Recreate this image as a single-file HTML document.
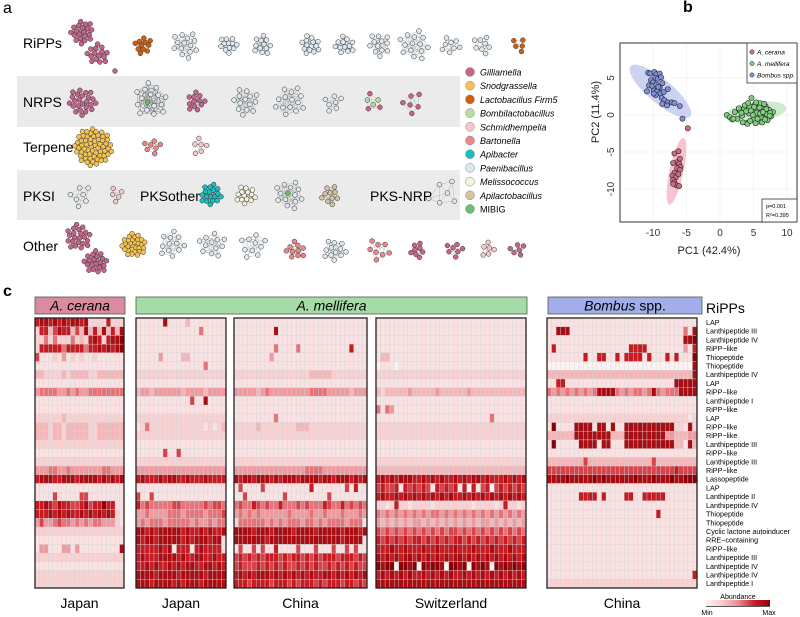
<!DOCTYPE html>
<html><head><meta charset="utf-8"><style>
body{margin:0;background:#fff;}
svg{display:block;font-family:"Liberation Sans",sans-serif;}
</style></head><body>
<svg id="fig" width="800" height="617" viewBox="0 0 800 617">
<text x="3" y="13" font-size="16">a</text>
<text x="683" y="12" font-size="16" font-weight="bold">b</text>
<text x="3" y="296" font-size="16" font-weight="bold">c</text>
<rect x="17" y="76" width="443" height="51" fill="#ebebeb"/>
<rect x="17" y="170" width="443" height="50" fill="#ebebeb"/>
<g id="net"></g>
<g font-size="14">
<text x="23" y="48">RiPPs</text>
<text x="23" y="107">NRPS</text>
<text x="23" y="152">Terpene</text>
<text x="23" y="201">PKSI</text>
<text x="140" y="201">PKSother</text>
<text x="370" y="201">PKS-NRP</text>
<text x="23" y="251">Other</text>
</g>
<g id="netlegend"></g>
<g id="pca"></g>
<g id="heat"></g>
</svg>
<script>
const NS='http://www.w3.org/2000/svg';
function mk(tag,attrs,parent){const e=document.createElementNS(NS,tag);for(const k in attrs)e.setAttribute(k,attrs[k]);parent.appendChild(e);return e;}
const fig=document.getElementById('fig');

// ---------- Panel a: networks ----------
const taxa=['Gilliamella','Snodgrassella','Lactobacillus Firm5','Bombilactobacillus','Schmidhempelia','Bartonella','Apibacter','Paenibacillus','Melissococcus','Apilactobacillus','MIBIG'];
const taxaColors=['#c8648b','#f3c24f','#d0600e','#b9dca0','#f8c8c8','#f08585','#17bfc0','#dce9f0','#f6f3dc','#d6c39c','#6cbf6c'];
const clusters=[
[82,32,20,12,0],[98,54,15,11,0],[115,71,1,0,0],[143,45,11,9,2],[186,45,14,14,7],[228,45,12,9,7],[262,45,12,10,7],[310,45,14,10,7],[345,45,12,10,7],[380,45,12,12,7],[415,45,14,16,7],[451,45,8,10,7],[483,45,8,10,7],[520,45,5,8,2],
[82,102,24,14,0],[150,100,16,18,7],[196,102,12,10,0],[246,102,14,14,7],[290,102,14,16,7],[333,102,7,10,7],[372,102,6,10,3],[412,102,6,12,0],
[93,147,60,19,1],[152,147,7,9,5],[200,147,6,9,4],
[80,195,7,12,7],[117,195,5,8,4],[211,195,18,11,6],[246,195,14,10,8],[290,195,14,15,7],[330,195,10,10,9],[443,195,6,17,7],
[78,237,22,13,0],[96,262,20,12,0],[134,245,30,12,1],[172,245,12,14,7],[212,245,12,14,7],[253,245,10,14,7],[296,250,10,10,5],[335,250,12,12,7],[378,250,8,12,5],[417,250,8,8,0],[454,250,7,9,0],[488,250,6,8,4],[517,250,6,8,0]];
const net=document.getElementById('net');
const GA=2.39996;
clusters.forEach((c,ci)=>{
  const g=mk('g',{},net);
  
  
  const pts=[];
  for(let i=0;i<c[2];i++){const r=c[2]>1?c[3]*Math.sqrt((i+0.5)/c[2]):0;const a=i*GA+ci;pts.push([c[0]+r*Math.cos(a),c[1]+r*Math.sin(a)]);}
  const th=c[2]>20?8:(c[3]*1.0+3);
  for(let i=0;i<pts.length;i++)for(let j=i+1;j<pts.length;j++){const d=Math.hypot(pts[i][0]-pts[j][0],pts[i][1]-pts[j][1]);if(d<th)mk('line',{x1:pts[i][0],y1:pts[i][1],x2:pts[j][0],y2:pts[j][1],stroke:c[2]>15?'#777':'#aaa','stroke-width':0.4},g);}
  pts.forEach((p,i)=>{let col=taxaColors[c[4]];if((ci===15||ci===29)&&i===0)col=taxaColors[10];if(ci===20&&i>2)col=taxaColors[0];mk('circle',{cx:p[0],cy:p[1],r:2.4,fill:col,stroke:'#333','stroke-width':0.5},g);});
});
const nl=document.getElementById('netlegend');
taxa.forEach((t,i)=>{
  const y=72+i*13.7;
  const c=mk('circle',{cx:470,cy:y,r:4.5,fill:taxaColors[i],stroke:'#888','stroke-width':0.5},nl);
  
  
  const tx=mk('text',{x:480,y:y+3.5,'font-size':9,'font-style':i===10?'normal':'italic'},nl);
  tx.textContent=t;
  
  
});

// ---------- Panel b: PCA ----------
const ceranaX=[-6.8,-6.2,-6.0,-6.5,-7.0,-6.1,-5.9,-6.4,-6.8,-6.0,-7.1,-6.6,-6.2,-7.0,-6.8,-6.5,-6.1,-7.0,-4.8];
const ceranaY=[-5.2,-4.9,-5.9,-6.4,-6.5,-6.6,-7.0,-7.2,-7.8,-7.4,-8.2,-8.4,-8.0,-8.8,-9.1,-9.5,-9.6,-9.3,-1.8];
const bombusX=[-10.7,-10.4,-9.8,-9.5,-9.0,-9.7,-10.3,-10.0,-9.3,-8.8,-10.6,-10.1,-9.5,-9.0,-8.6,-9.9,-9.4,-8.9,-8.4,-7.8,-10.9,-9.6,-8.7,-8.3,-8.6,-7.8,-7.2,-6.8,-7.9,-6.0,-5.6,-9.2,-9.9];
const bombusY=[5.7,5.6,5.8,5.5,5.6,5.0,4.7,4.4,4.9,5.1,4.0,3.9,4.1,3.7,4.3,3.3,3.2,2.9,3.1,3.5,3.2,2.7,2.3,2.0,1.5,1.7,1.7,1.6,1.3,1.2,-0.5,3.8,2.9];
const melliferaX=[1.0,1.5,1.8,2.2,2.6,3.0,3.3,3.6,4.0,4.3,4.7,4.8,5.0,5.2,5.5,5.8,6.0,6.2,6.5,6.8,7.0,7.3,7.6,7.9,2.0,2.8,3.4,3.9,4.4,4.9,5.3,5.7,6.1,6.6,7.1,7.5,3.2,4.1,4.6,5.1,5.6,6.3,6.9,7.4,4.5,5.4,6.0,6.7,3.7,5.9,4.2,6.4];
const melliferaY=[0.0,-0.3,-0.6,0.4,-0.5,0.6,-0.1,0.9,-1.1,0.2,2.3,0.8,-0.6,1.4,0.3,-0.9,1.6,0.5,-0.4,1.2,0.1,0.7,-0.2,0.4,-0.5,0.9,-1.0,0.5,1.2,0.0,-1.1,0.9,-0.3,1.5,-0.7,0.3,0.3,-1.2,0.6,1.1,-0.5,-1.0,0.8,-0.1,-0.8,1.7,0.2,-0.6,1.3,1.0,1.6,0.4];
const xTicks=[-10,-5,0,5,10];
const yTicks=[5,0,-5,-10];
const pca=document.getElementById('pca');
const X0=620,X1=797,Y0=43,Y1=222;
const px=v=>653+(v+10)*6.7, py=v=>78-(v-5)*7.4;
xTicks.forEach(t=>{const l=mk('line',{x1:px(t),x2:px(t),y1:Y0,y2:Y1,stroke:'#ececec','stroke-width':0.6},pca);});
yTicks.forEach(t=>{const l=mk('line',{x1:X0,x2:X1,y1:py(t),y2:py(t),stroke:'#ececec','stroke-width':0.6},pca);});
// ellipses (center x,y in data; radii px; angle)
const ell=[[-6.5,-7.6,34,7,-78,'#f4b9c6'],[-8.9,3.2,39,12,40,'#c3cbf0'],[5.3,0.4,31,10,-8,'#c6e8c6']];
ell.forEach(e=>{const el=mk('ellipse',{cx:px(e[0]),cy:py(e[1]),rx:e[2],ry:e[3],fill:e[5],opacity:0.85,transform:`rotate(${e[4]} ${px(e[0])} ${py(e[1])})`},pca);});
function pts(xs,ys,col,name){xs.forEach((x,i)=>{const c=mk('circle',{cx:px(x),cy:py(ys[i]),r:2.6,fill:col,stroke:'#222','stroke-width':0.6},pca);});}
pts(melliferaX,melliferaY,'#7fcf7f','point-mellifera');
pts(bombusX,bombusY,'#7f8fdc','point-bombus');
pts(ceranaX,ceranaY,'#cf6b8a','point-cerana');
const fr=mk('rect',{x:X0,y:Y0,width:X1-X0,height:Y1-Y0,fill:'none',stroke:'#333','stroke-width':1},pca);

xTicks.forEach(t=>{const tx=mk('text',{x:px(t),y:Y1+14,'font-size':10,'text-anchor':'middle',fill:'#333'},pca);tx.textContent=t;});
yTicks.forEach(t=>{const tx=mk('text',{x:0,y:0,'font-size':10,'text-anchor':'middle',fill:'#333',transform:`translate(${X0-6},${py(t)}) rotate(-90)`},pca);tx.textContent=t;});
let t1=mk('text',{x:709,y:254,'font-size':11,'text-anchor':'middle',fill:'#222'},pca);t1.textContent='PC1 (42.4%)';
let t2=mk('text',{x:0,y:0,'font-size':11,'text-anchor':'middle',fill:'#222',transform:'translate(599,112) rotate(-90)'},pca);t2.textContent='PC2 (11.4%)';
const lb=mk('rect',{x:747,y:43,width:50,height:40,fill:'#fff',stroke:'#333','stroke-width':0.8},pca);
[['A. cerana','#cf6b8a'],['A. mellifera','#7fcf7f'],['Bombus spp.','#7f8fdc']].forEach((d,i)=>{const y=52+i*11.5;mk('circle',{cx:752,cy:y,r:2.2,fill:d[1],stroke:'#333','stroke-width':0.5},pca);const tx=mk('text',{x:757,y:y+2.3,'font-size':6.5,'font-style':'italic'},pca);tx.textContent=d[0];});
const sb=mk('rect',{x:762,y:199,width:35,height:23,fill:'#fff',stroke:'#333','stroke-width':0.8},pca);
let s1=mk('text',{x:766,y:208,'font-size':5.5},pca);s1.textContent='p=0.001';
let s2=mk('text',{x:766,y:217,'font-size':5.5},pca);s2.textContent='R²=0.395';

// ---------- Panel c: heatmap ----------
const rowLabels=['LAP','Lanthipeptide III','Lanthipeptide IV','RiPP−like','Thiopeptide','Thiopeptide','Lanthipeptide IV','LAP','RiPP−like','Lanthipeptide I','RiPP−like','LAP','RiPP−like','RiPP−like','Lanthipeptide III','RiPP−like','Lanthipeptide III','RiPP−like','Lassopeptide','LAP','Lanthipeptide II','Lanthipeptide IV','Thiopeptide','Thiopeptide','Cyclic lactone autoinducer','RRE−containing','RiPP−like','Lanthipeptide III','Lanthipeptide IV','Lanthipeptide IV','Lanthipeptide I'];
const ceranaJapan=["78878787887822227222","27736877363837383738","22525222523278727889","27777757777577878789","61112141212112111111","11111111111111111111","33222232333322333333","11111111111111111111","45555445454455555555","11111111111111111111","11111111111111111111","22222232222222222222","33323323333322333333","33323323333322333333","22222222222222222222","11111111111111111111","22222222222222222222","44455445444444455444","78887788878888787878","11111111111111111111","11116111116611111111","77876877667867797711","77787878778787878721","46445655454545544421","22222222222222222222","11111111111111111111","14411144141111111118","22222222222222222222","11111111111111111111","22222222222222222222","22222222222222222222"];
const melliferaJapan=["11111181111311111111","11111111111111511111","11111111111111111111","11111111111111111111","11111411113311111111","11111111111111151111","22222222222222222222","11111111111111111111","34434444443444434444","11111111111161181111","11111111111111111111","22222222222222222222","12522222222222212123","22222222222222222222","11111111111111111111","11111161161111111111","22222222222222222222","44444444444444444444","78777878877877787777","11111111111111111111","61161111111111111111","75655555665555565665","44544445554555545556","45455545555545445455","88787888887877878778","87887888887878887881","77777878177717877771","78777888878778877877","77878778787887788787","88887888878888878888","88878888787888788888"];
const melliferaChina=["111111111111111111111111111111","111111111811111111111111111111","111111111111111111111111111111","111111111511115111111111117111","111111114111111111111111111111","111111111111111111111111111111","222222222222222223333322222222","111111111111111111111111111111","444443454444444445555444443444","111111111111111111111111111111","111111111111111111111111111111","111111111511111111111111111111","222223222222223332222222222222","222222222222222222222222222222","111111111111111111111111111111","111111111111111111111111111111","222222222222222222222222222222","444444444444444455554444444444","878878887878887888878878887878","161111611111111117111111161711","116111111116111111111611111111","565576565575556565557655756565","454545444444544445445444544454","255555545454555455454555545551","888878887888878888788888788878","888888878888888888888888788881","161161611711116111611161161611","676767677767677676767776777676","676667676767667676766767676766","787878887878787878778878787878","777677776777676777676777677676"];
const melliferaSwitzerland=["111111111111111111111111111111111","111111111111111111111111111111111","111111111111111111111111111111111","111111111111111111111111111111111","133111111111111111111111111111111","011101111111111111111111111111111","222222222222222222222222222222222","111111111111111111111111111111111","323333343333343333334333333333333","111111111111111111111111111111111","515411111111111111111111111111111","111111111111111111111111151111111","222222222222222222222222222222222","222222222222222222222222222222222","111111111111111111111111111111111","111111111111111111111111111111111","222222222222222222222222222222222","333333333333333333333333333333333","787878887787878778787887877787878","676671767676176767170716706767676","787787878787878787787878787878787","221272212222122222222122221272212","545454545454554545454545454545454","434343434434343434343434434343434","656565656565656566565656565656565","767676767767676767767676767676767","777877877787787778777877787778777","878787887878787878878787878787878","989909989098998099890989809898989","787878787787878787787878787878787","888888888888888888888888888888888"];
const bombusChina=["111111111111111111111111111111111","118881111111111111111111111111518","111111111111111111111111111111889","171111111111111111777711111111417","111111117117711717777171117171119","000000000000000000000000000000008","333333333333333333333333333333338","117711111111111111111111111188888","545454545458888545455458545558888","111111111111111111111111111111111","111111111111111111111111111111111","222222222222222222222222222222212","191111888818818118888888888822182","333333888888883338888888884433344","191111188881881118888888888833183","111111111111111111111111111111111","333333336333333333333336333333333","666666666666666666666666666676666","888898888898988888898889888988999","111111111111111111111111111111111","111111177771711117711777771111111","111111111111111111111111111111111","111111111111111111111111711111111","111111111111111111111111111111111","111111111111111111111111111111111","111111111111111111111111111111111","111111111111111111111111111111111","111111111111111111111111111111111","111111111111111111111111111111111","111111111111111111111111111111117","222222222222222222222222222222222"];
const panels=[[35,124,ceranaJapan,'Japan'],[136,226,melliferaJapan,'Japan'],[234,367,melliferaChina,'China'],[376,526,melliferaSwitzerland,'Switzerland'],[547,697,bombusChina,'China']];
const HY0=318,HY1=588,rowH=(HY1-HY0)/rowLabels.length;
const stops=[[252,242,242],[247,205,207],[235,140,145],[205,30,38],[140,0,5]];
function colorFor(v){const t=v/9*(stops.length-1);const i=Math.min(Math.floor(t),stops.length-2);const f=t-i;const c=stops[i].map((s,k)=>Math.round(s+(stops[i+1][k]-s)*f));return `rgb(${c})`;}
const heat=document.getElementById('heat');
panels.forEach(p=>{
  const g=mk('g',{},heat);
  
  
  const nC=p[2][0].length,cw=(p[1]-p[0])/nC;
  p[2].forEach((row,r)=>{for(let c=0;c<nC;c++){const cell=mk('rect',{x:p[0]+c*cw,y:HY0+r*rowH,width:cw,height:rowH,fill:colorFor(+row[c]),stroke:'#d4d4d4','stroke-width':0.35},g);}});
  mk('rect',{x:p[0],y:HY0,width:p[1]-p[0],height:HY1-HY0,fill:'none',stroke:'#222','stroke-width':1.3},g);
  const lab=mk('text',{x:(p[0]+p[1])/2,y:608,'font-size':14,'text-anchor':'middle'},g);lab.textContent=p[3];
  
  
});
[[35,297,90,'#d98ba0','A. cerana'],[136,297,391,'#a5dba5','A. mellifera'],[548,297,154,'#a1aeea','Bombus spp.']].forEach(h=>{
  const r=mk('rect',{x:h[0],y:h[1],width:h[2],height:17,fill:h[3],stroke:'#555','stroke-width':0.8},heat);
  
  
  const tx=mk('text',{x:h[0]+h[2]/2,y:h[1]+13.5,'font-size':14,'text-anchor':'middle'},heat);
  if(h[4]==='Bombus spp.'){tx.innerHTML='<tspan font-style="italic">Bombus</tspan> spp.';}else{tx.setAttribute('font-style','italic');tx.textContent=h[4];}
  
  
});
const rp=mk('text',{x:706,y:313,'font-size':14},heat);rp.textContent='RiPPs';
rowLabels.forEach((l,r)=>{const tx=mk('text',{x:706,y:HY0+r*rowH+rowH/2+2.6,'font-size':7.2},heat);tx.textContent=l;});
const defs=mk('defs',{},fig);const lg=mk('linearGradient',{id:'cb'},defs);
stops.forEach((s,i)=>mk('stop',{offset:i/(stops.length-1),'stop-color':`rgb(${s})`},lg));
const cb=mk('rect',{x:706,y:600,width:64,height:6,fill:'url(#cb)'},heat);
mk('line',{x1:706,x2:770,y1:606.5,y2:606.5,stroke:'#222','stroke-width':0.8},heat);
let ab=mk('text',{x:738,y:599,'font-size':7,'text-anchor':'middle'},heat);ab.textContent='Abundance';
let mn=mk('text',{x:707,y:615,'font-size':7,'text-anchor':'middle'},heat);mn.textContent='Min';
let mx=mk('text',{x:769,y:615,'font-size':7,'text-anchor':'middle'},heat);mx.textContent='Max';
</script>
</body></html>
